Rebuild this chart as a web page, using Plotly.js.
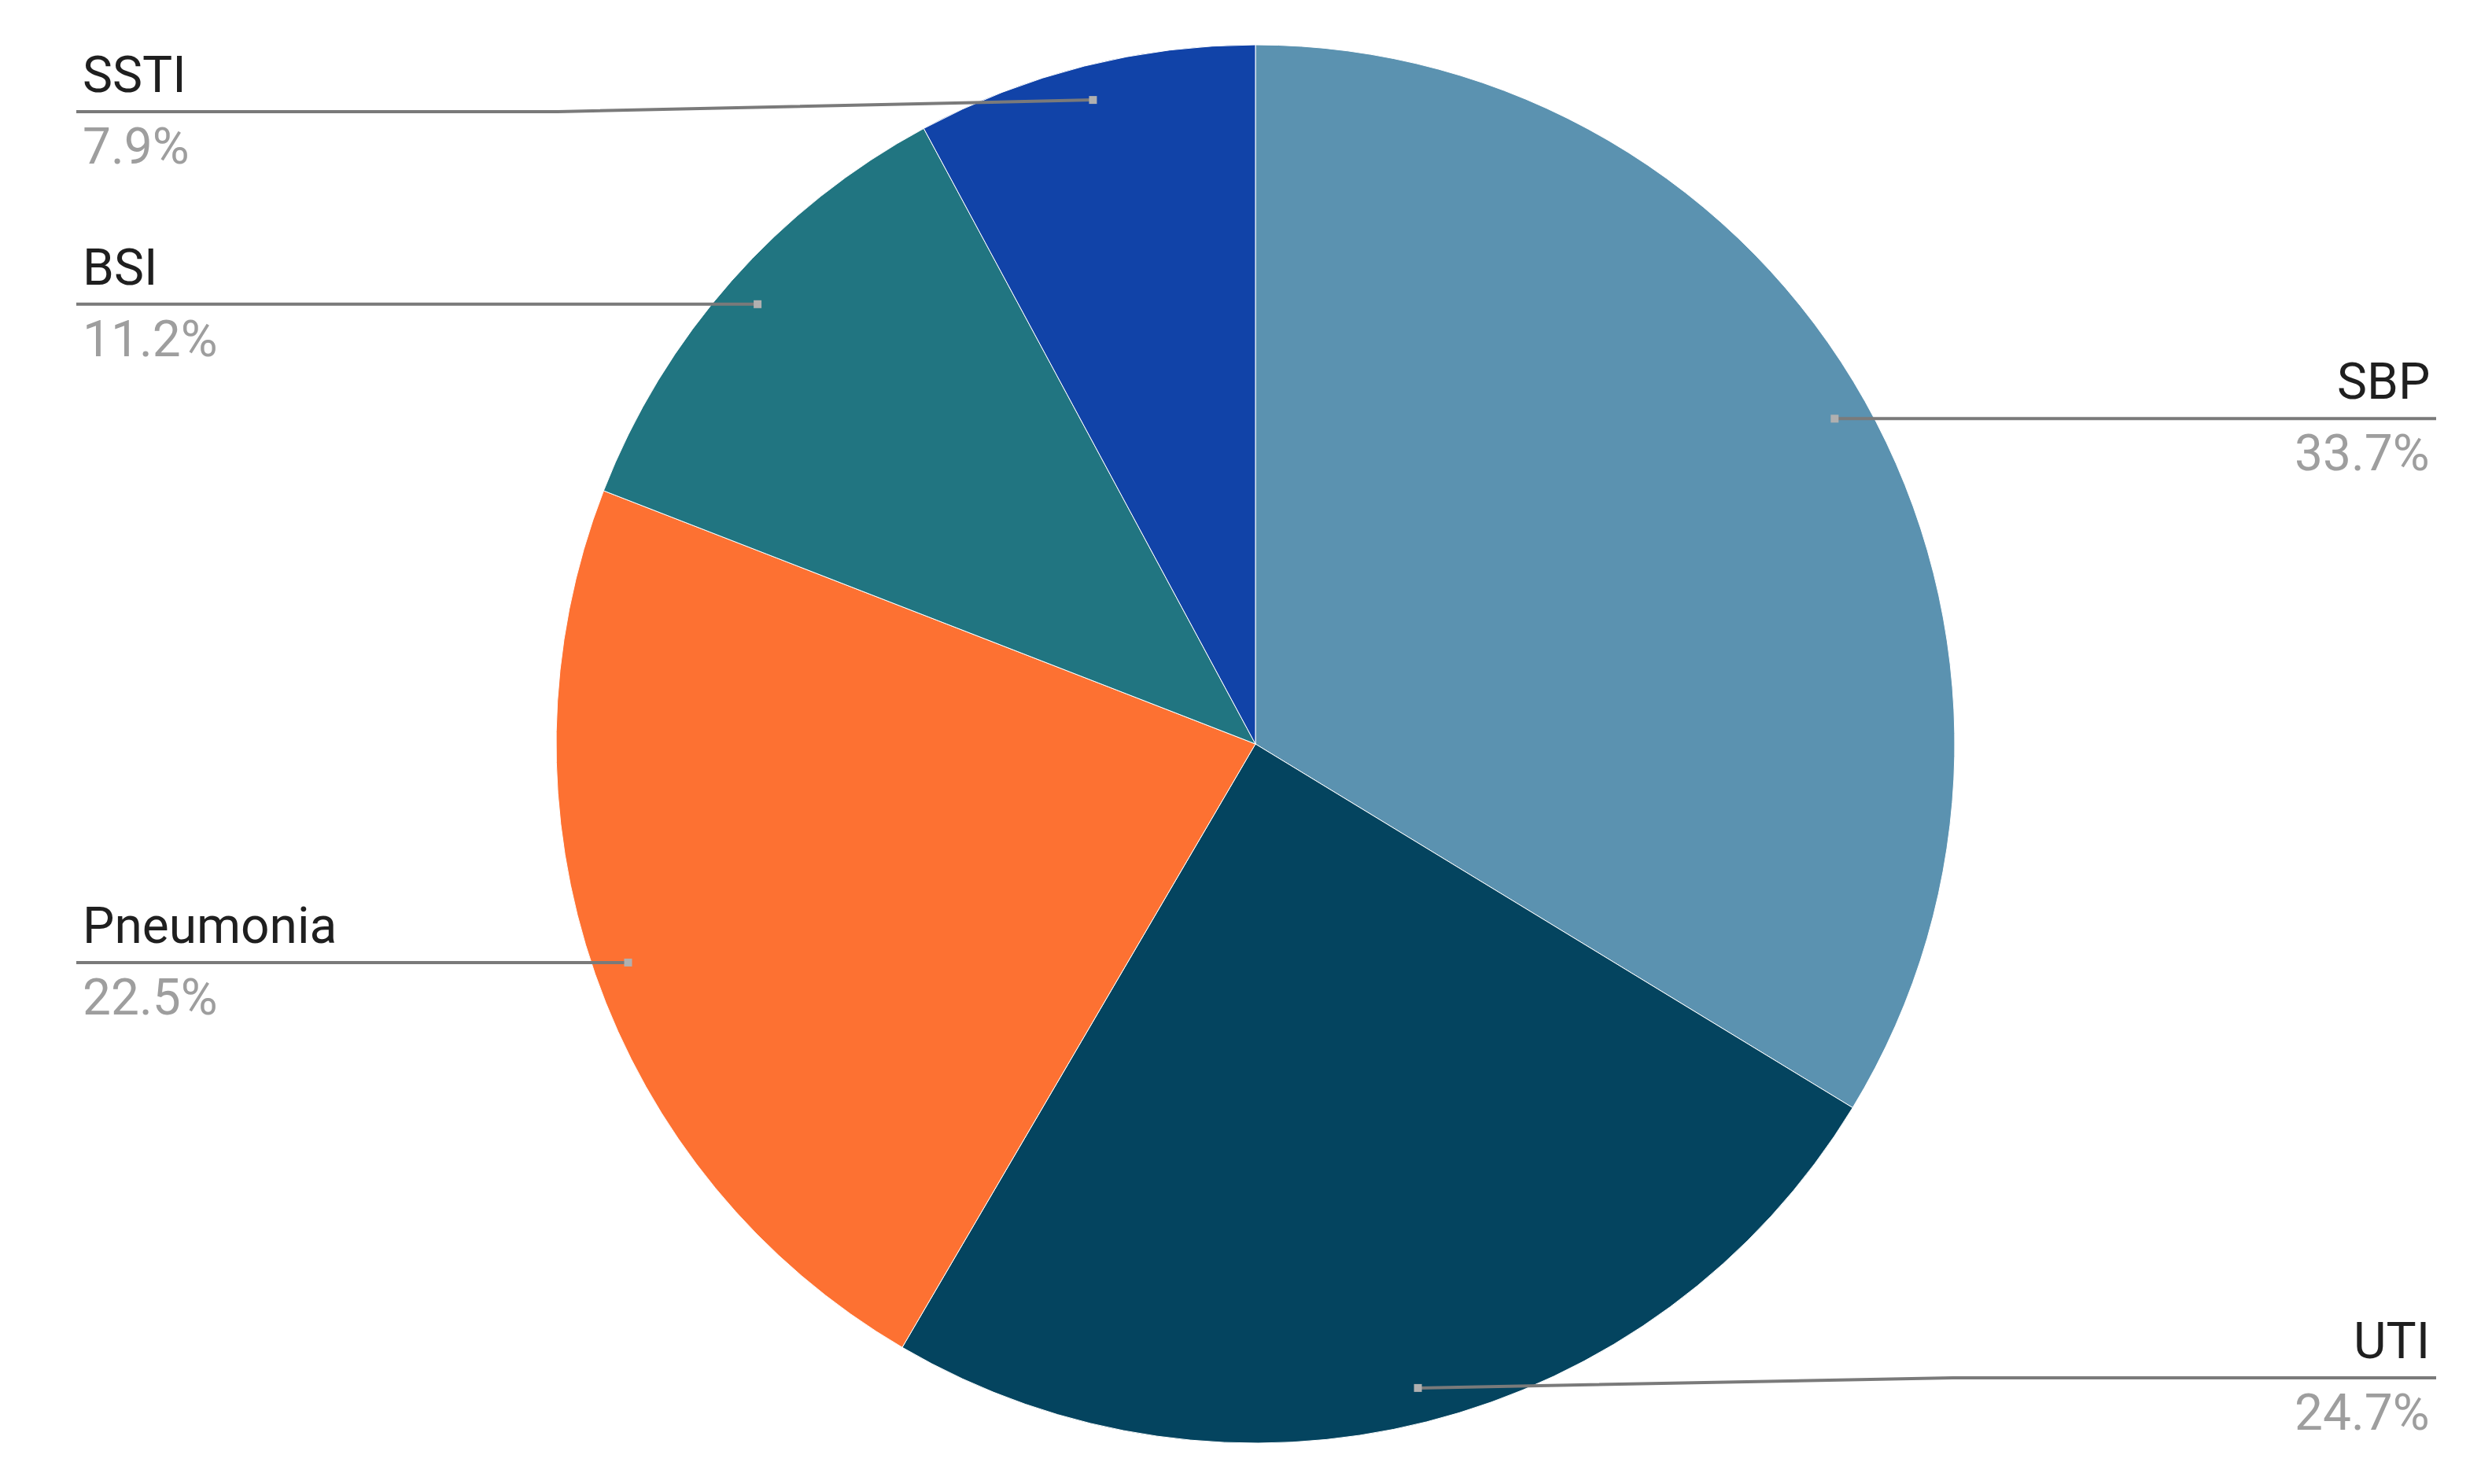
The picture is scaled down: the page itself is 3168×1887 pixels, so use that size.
<!DOCTYPE html>
<html>
<head>
<meta charset="utf-8">
<script src="https://cdn.plot.ly/plotly-3.0.1.min.js"></script>
<style>html,body{margin:0;padding:0;background:#fff;}#chart{width:3168px;height:1887px;}</style>
</head>
<body>
<div id="chart"></div>
<script>
// Data
const categories = ["SBP", "UTI", "Pneumonia", "BSI", "SSTI"];
const counts = [30, 22, 20, 10, 7];
const colors = ["#5b92b0", "#04445f", "#fd7132", "#217581", "#1143a8"];
// Label side for each slice (layout choice)
const labelSide = ["right", "right", "left", "left", "left"];

const W = 3168, H = 1887;
const cx = 1596, cy = 946, R = 889;
const leftX = 103, rightX = 3091;
const minLineY = 142, maxLineY = 1752;
const fontSize = 64;
const FONT = "Roboto, Arial, sans-serif";

const total = counts.reduce((a, b) => a + b, 0);
const px = x => x / W;
const py = y => 1 - y / H;

const shapes = [];
const annotations = [];
let cum = 0;
counts.forEach((v, i) => {
  const frac = v / total;
  const mid = cum + frac / 2;
  cum += frac;
  const ang = mid * 2 * Math.PI; // clockwise from 12 o'clock
  const dx = cx + Math.sin(ang) * R * 0.95;
  const dy = cy - Math.cos(ang) * R * 0.95;
  const ly = Math.min(maxLineY, Math.max(minLineY, dy));
  const side = labelSide[i];
  const lx = side === "left" ? leftX - 6 : rightX + 6;
  const tx = side === "left" ? leftX : rightX;
  let bendX;
  if (Math.abs(ly - dy) > 1) {
    bendX = side === "left" ? dx - 680 : dx + 680;
  } else {
    bendX = dx;
  }
  shapes.push({
    type: "path", xref: "paper", yref: "paper",
    path: `M ${px(lx)} ${py(ly)} L ${px(bendX)} ${py(ly)} L ${px(dx)} ${py(dy)}`,
    line: {color: "#7a7a7a", width: 4}
  });
  const r = 5;
  shapes.push({
    type: "rect", xref: "paper", yref: "paper",
    x0: px(dx - r), x1: px(dx + r), y0: py(dy - r), y1: py(dy + r),
    fillcolor: "#b0b0b0", line: {width: 0}
  });
  annotations.push({
    xref: "paper", yref: "paper", x: px(tx), y: py(ly - 7),
    xanchor: side === "left" ? "left" : "right", yanchor: "bottom",
    text: categories[i], showarrow: false,
    font: {family: FONT, size: fontSize, color: "#1f1f1f"}
  });
  annotations.push({
    xref: "paper", yref: "paper", x: px(tx), y: py(ly + 5),
    xanchor: side === "left" ? "left" : "right", yanchor: "top",
    text: (frac * 100).toFixed(1) + "%", showarrow: false,
    font: {family: FONT, size: fontSize, color: "#9e9e9e"}
  });
});

const trace = {
  type: "pie",
  labels: categories,
  values: counts,
  sort: false,
  direction: "clockwise",
  rotation: 0,
  textinfo: "none",
  hoverinfo: "label+percent",
  marker: {colors: colors, line: {color: "#ffffff", width: 1}},
  domain: {x: [px(cx - R - 10), px(cx + R + 10)], y: [py(cy + R), py(cy - R)]},
  showlegend: false
};

const layout = {
  width: W, height: H,
  margin: {l: 0, r: 0, t: 0, b: 0},
  paper_bgcolor: "#ffffff",
  showlegend: false,
  shapes: shapes,
  annotations: annotations
};

Plotly.newPlot("chart", [trace], layout, {displayModeBar: false, staticPlot: true});
</script>
</body>
</html>
